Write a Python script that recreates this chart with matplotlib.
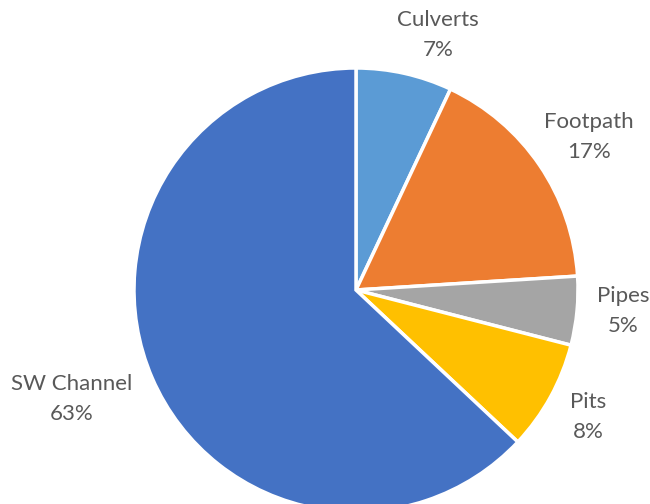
import matplotlib
matplotlib.use("Agg")
import matplotlib.pyplot as plt

# Quote share by asset type
categories = ["Culverts", "Footpath", "Pipes", "Pits", "SW Channel"]
shares = [7, 17, 5, 8, 63]
colors = ["#5B9BD5", "#ED7D31", "#A5A5A5", "#FFC000", "#4472C4"]

W, H = 650, 504
fig = plt.figure(figsize=(W / 100, H / 100), dpi=100)
ax = fig.add_axes([0, 0, 1, 1])

cx, cy, r = 356, H - 290, 222
wedges, _ = ax.pie(shares, colors=colors, startangle=90, counterclock=False,
                   center=(cx, cy), radius=r, frame=True,
                   wedgeprops=dict(edgecolor="white", linewidth=2.5))
ax.set_xlim(0, W)
ax.set_ylim(0, H)
ax.set_aspect("equal")
ax.axis("off")

# label centres in pixel units (from top-left), placed outside each slice
label_pos = [(438, 35), (589, 137), (623, 311), (588, 417), (72, 399)]
for name, val, (lx, ly) in zip(categories, shares, label_pos):
    ax.text(lx, H - ly, f"{name}\n{val}%", ha="center", va="center",
            fontsize=16, family="Lato", color="#595959", linespacing=1.6)

fig.savefig("out.png", dpi=100, facecolor="white")
